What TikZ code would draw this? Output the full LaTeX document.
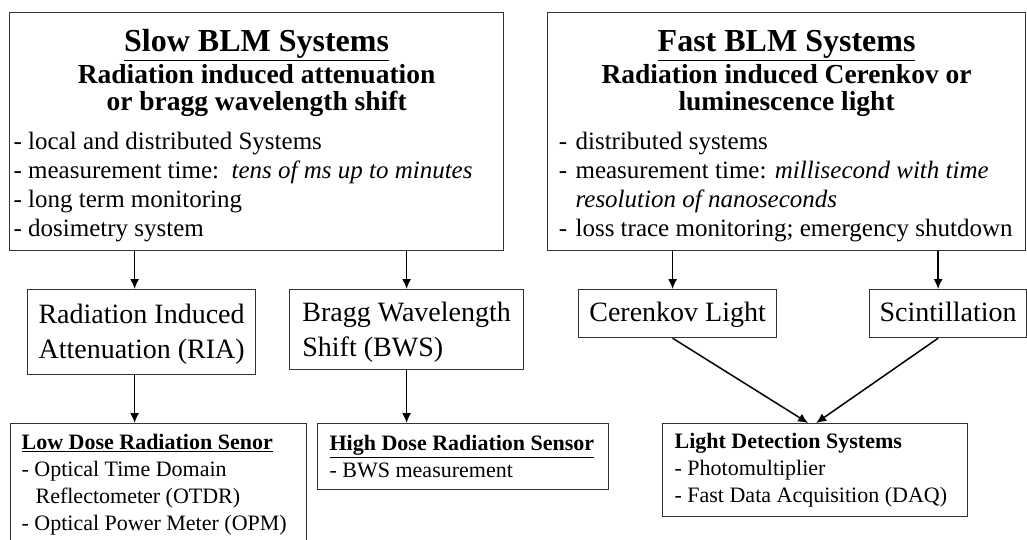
\documentclass[tikz,border=0pt]{standalone}
\usepackage{fontspec}
\setmainfont{Liberation Serif}
\usetikzlibrary{arrows.meta}
\tikzset{
  box/.style = {draw=black!80, line width=1.2pt, inner ysep=0pt,
                align=left, anchor=north west,
                execute at begin node={\spaceskip=0pt\xspaceskip=0pt\relax}},
  arr/.style = {line width=1.5pt, black,
                -{Latex[length=10pt,width=9pt]}}
}

\begin{document}
\begin{tikzpicture}[x=1pt, y=-1pt]
	\def \W{1027}
	\def \H{539}
	\def \dashw{23pt}
	\useasboundingbox (0,0) rectangle (\W,\H);
	\clip (0,0) rectangle (\W,\H);
	
	% Top boxes
	\node[box, minimum width=494pt, minimum height=238pt, text width=486pt, inner xsep=4pt, font=\fontsize{25}{29}\selectfont] (slow) at (9,12) {%
		{\centering
		\rule{0pt}{31pt}{\fontsize{32}{33}\selectfont\bfseries\underline{Slow BLM Systems}}\\[3pt]
		{\fontsize{27.5}{28}\selectfont\bfseries Radiation induced attenuation}\\[-2pt]
		{\fontsize{27.5}{28}\selectfont\bfseries or bragg wavelength shift}\\[10pt]\par}
		- local and distributed Systems\\
		- measurement time:\ \ \textit{tens of ms up to minutes}\\
		- long term monitoring\\
		- dosimetry system};
	\node[box, minimum width=478pt, minimum height=238pt, text width=468pt, inner xsep=5pt, font=\fontsize{25}{29}\selectfont] (fast) at (547,12) {%
		{\centering
		\rule{0pt}{31pt}{\fontsize{32}{33}\selectfont\bfseries\underline{Fast BLM Systems}}\\[3pt]
		{\fontsize{27.5}{28}\selectfont\bfseries Radiation induced Cerenkov or}\\[-2pt]
		{\fontsize{27.5}{28}\selectfont\bfseries luminescence light}\\[10pt]\par}
		\makebox[\dashw][l]{\ -}distributed systems\\
		\makebox[\dashw][l]{\ -}measurement time: \textit{millisecond with time}\\
		\hspace*{\dashw}\textit{resolution of nanoseconds}\\
		\makebox[\dashw][l]{\ -}loss trace monitoring; emergency shutdown};
	
	% Middle boxes
	\node[box, minimum width=228pt, minimum height=85pt, inner xsep=10pt, font=\fontsize{28}{35}\selectfont] (ria) at (27,289) {\rule{0pt}{24pt}Radiation Induced\\Attenuation (RIA)};
	\node[box, minimum width=234pt, minimum height=80pt, inner xsep=11pt, font=\fontsize{28}{35}\selectfont] (bws) at (289,289) {\rule{0pt}{24pt}Bragg Wavelength\\Shift (BWS)};
	\node[box, minimum width=198pt, minimum height=48pt, inner xsep=10pt, text height=21pt, text depth=5pt, font=\fontsize{28}{35}\selectfont] (cer) at (578,289) {Cerenkov Light};
	\node[box, minimum width=157pt, minimum height=48pt, inner xsep=10pt, text height=21pt, text depth=5pt, font=\fontsize{28}{35}\selectfont] (scint) at (869,289) {Scintillation};
	
	% Bottom boxes
	\node[box, minimum width=292pt, minimum height=122pt, text width=274pt, inner xsep=11pt, font=\fontsize{22}{27}\selectfont] (low) at (10,423) {%
		\textbf{\underline{Low Dose Radiation Senor}}\\
		- Optical Time Domain\\
		\hspace*{14pt}Reflectometer (OTDR)\\
		- Optical Power Meter (OPM)};
	\node[box, minimum width=287pt, minimum height=66pt, text width=267pt, inner xsep=12pt, font=\fontsize{22}{27}\selectfont] (high) at (317,423) {%
		\textbf{\underline{High Dose Radiation Sensor}}\\
		- BWS measurement};
	\node[box, minimum width=301pt, minimum height=93pt, text width=281pt, inner xsep=12pt, font=\fontsize{22}{27}\selectfont] (light) at (662,423) {%
		\textbf{Light Detection Systems}\\
		- Photomultiplier\\
		- Fast Data Acquisition (DAQ)};
	
	% Arrows
	\coordinate (riaIn) at ([xshift=-7pt]ria.north);
	\coordinate (cerIn) at ([xshift=-5pt]cer.north);
	\coordinate (scintIn) at ([xshift=-10pt]scint.north);
	\draw[arr] (riaIn |- slow.south) -- (riaIn);
	\draw[arr] (bws.north |- slow.south) -- (bws.north);
	\draw[arr] (cerIn |- fast.south) -- (cerIn);
	\draw[arr] (scintIn |- fast.south) -- (scintIn);
	\draw[arr] (riaIn |- ria.south) -- (riaIn |- low.north);
	\draw[arr] (bws.south) -- (bws.south |- high.north);
	\draw[arr] (cerIn |- cer.south) -- ([xshift=-7pt]light.north);
	\draw[arr] (scintIn |- scint.south) -- ([xshift=1pt]light.north);
	
\end{tikzpicture}
\end{document}
